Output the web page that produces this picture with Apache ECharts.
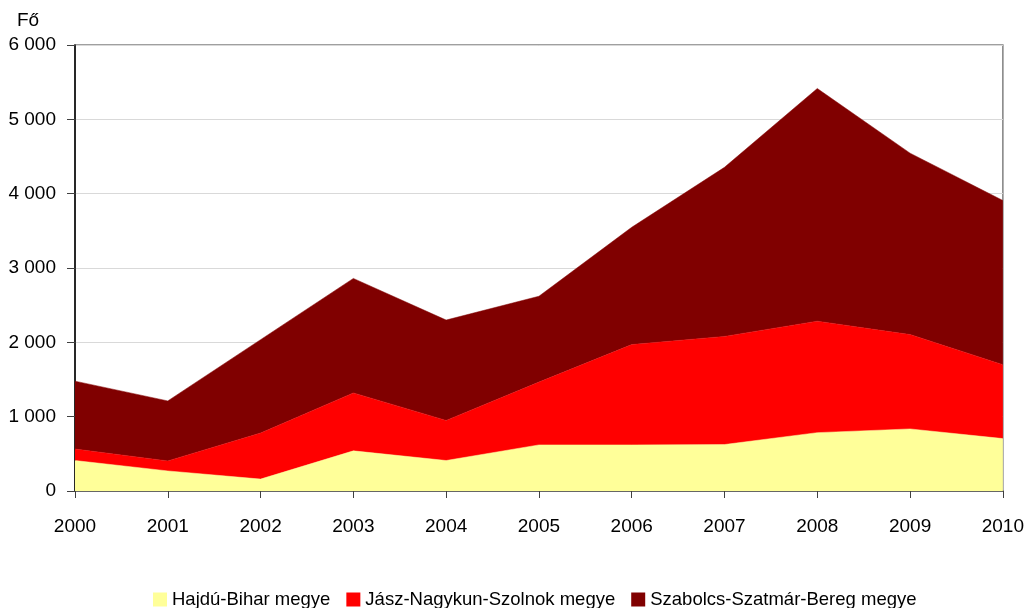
<!DOCTYPE html>
<html>
<head>
<meta charset="utf-8">
<script src="https://cdn.jsdelivr.net/npm/echarts@6/dist/echarts.min.js"></script>
<style>
  html, body { margin: 0; padding: 0; background: #fff; }
  #chartArea { width: 1027px; height: 608px; }
</style>
</head>
<body>
<div id="chartArea"></div>
<script>
// évek és megyei adatok (fő)
var years = ['2000', '2001', '2002', '2003', '2004', '2005', '2006', '2007', '2008', '2009', '2010'];
var hajduBihar = [410, 270, 160, 540, 410, 620, 620, 625, 785, 835, 705];
var jaszNagykun = [155, 135, 620, 780, 540, 845, 1350, 1455, 1500, 1270, 995];
var szabolcs = [913, 807, 1256, 1540, 1350, 1155, 1578, 2275, 3130, 2440, 2208];
var seriesNames = ['Hajdú-Bihar megye', 'Jász-Nagykun-Szolnok megye', 'Szabolcs-Szatmár-Bereg megye'];
var colors = ['#FFFF99', '#FF0000', '#800000'];

function fmt(v) {
  return String(v).replace(/\B(?=(\d{3})+(?!\d))/g, ' ');
}

function areaSeries(name, data, color) {
  return {
    name: name,
    type: 'line',
    stack: 'total',
    data: data,
    showSymbol: false,
    lineStyle: { width: 0.5, color: color },
    itemStyle: { color: color },
    areaStyle: { color: color, opacity: 1 }
  };
}

var chartArea = echarts.init(document.getElementById('chartArea'));
chartArea.setOption({
  animation: false,
  textStyle: { fontFamily: 'Liberation Sans, Arial, sans-serif', color: '#000' },
  title: {
    text: 'Fő',
    left: 12,
    top: 6,
    textStyle: { fontSize: 19, fontWeight: 'normal', color: '#000' }
  },
  legend: {
    data: seriesNames,
    left: 148,
    top: 585,
    itemWidth: 14,
    itemHeight: 14,
    itemGap: 16,
    icon: 'rect',
    textStyle: { fontSize: 18.5, color: '#000' }
  },
  grid: {
    left: 75,
    right: 21,
    top: 45,
    bottom: 117,
    show: true,
    borderColor: '#808080',
    borderWidth: 1.5
  },
  xAxis: {
    type: 'category',
    boundaryGap: false,
    data: years,
    axisLine: { lineStyle: { color: '#404040', width: 1.5 } },
    axisTick: { show: true, length: 7, inside: false, lineStyle: { color: '#404040' } },
    axisLabel: { fontSize: 19, color: '#000', margin: 26 }
  },
  yAxis: {
    type: 'value',
    min: 0,
    max: 6000,
    interval: 1000,
    axisLine: { show: true, lineStyle: { color: '#000', width: 1.5 } },
    axisTick: { show: true, length: 8, lineStyle: { color: '#404040' } },
    axisLabel: { fontSize: 19, color: '#000', margin: 19, formatter: fmt },
    splitLine: { show: true, lineStyle: { color: '#d9d9d9', width: 1 } }
  },
  series: [
    areaSeries(seriesNames[0], hajduBihar, colors[0]),
    areaSeries(seriesNames[1], jaszNagykun, colors[1]),
    areaSeries(seriesNames[2], szabolcs, colors[2])
  ]
});
</script>
</body>
</html>
